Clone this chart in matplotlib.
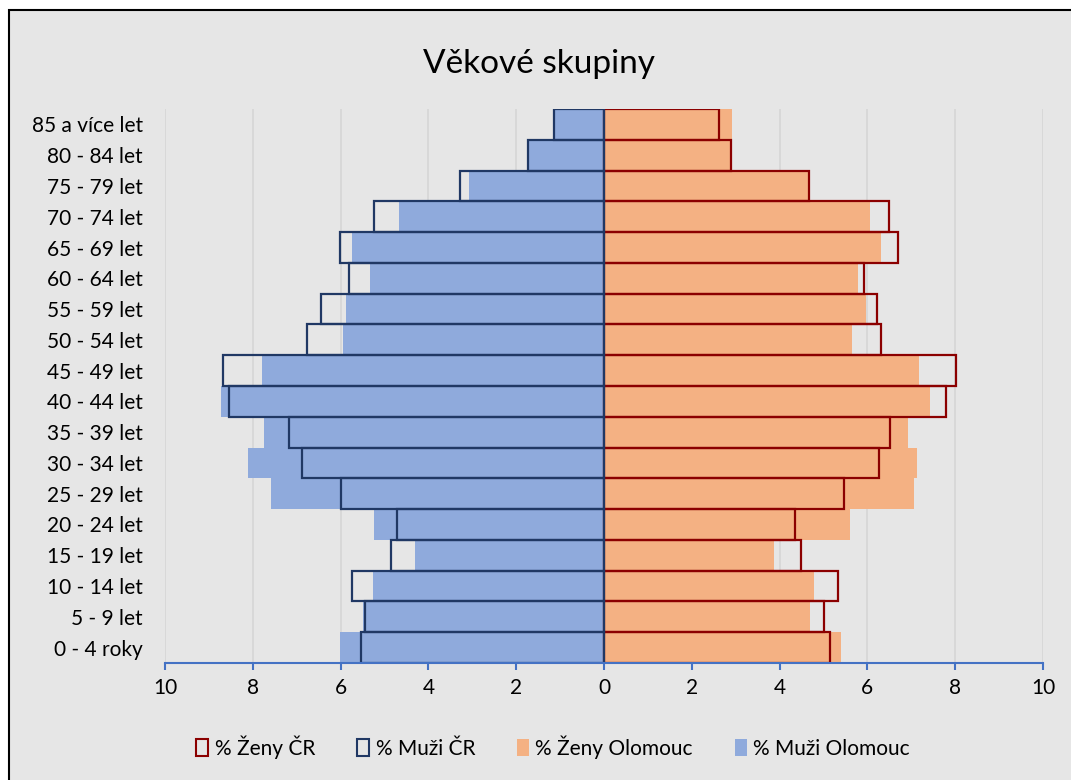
import numpy as np
import matplotlib.pyplot as plt
from matplotlib.patches import Patch, Rectangle

plt.rcParams['font.family'] = ['Lato', 'DejaVu Sans']

# age groups, youngest first (drawn bottom -> top)
vekove_skupiny = ['0 - 4 roky', '5 - 9 let', '10 - 14 let', '15 - 19 let', '20 - 24 let',
                  '25 - 29 let', '30 - 34 let', '35 - 39 let', '40 - 44 let', '45 - 49 let',
                  '50 - 54 let', '55 - 59 let', '60 - 64 let', '65 - 69 let', '70 - 74 let',
                  '75 - 79 let', '80 - 84 let', '85 a více let']

zeny_cr = [5.15, 5.02, 5.33, 4.48, 4.35, 5.46, 6.26, 6.51, 7.78, 8.02,
           6.32, 6.22, 5.92, 6.70, 6.50, 4.68, 2.89, 2.61]
muzi_cr = [5.53, 5.44, 5.73, 4.85, 4.72, 5.99, 6.88, 7.17, 8.55, 8.69,
           6.77, 6.45, 5.81, 6.01, 5.25, 3.28, 1.72, 1.15]
zeny_olomouc = [5.39, 4.70, 4.79, 3.87, 5.60, 7.07, 7.12, 6.92, 7.43, 7.18,
                5.66, 5.96, 5.79, 6.30, 6.07, 4.68, 2.88, 2.92]
muzi_olomouc = [6.01, 5.50, 5.26, 4.30, 5.25, 7.59, 8.10, 7.75, 8.73, 7.79,
                5.95, 5.88, 5.34, 5.75, 4.66, 3.07, 1.72, 1.15]

x_ticks = [-10, -8, -6, -4, -2, 0, 2, 4, 6, 8, 10]

c_zeny_ol = '#f4b183'
c_muzi_ol = '#8faadc'
c_zeny_cr = '#8b0000'
c_muzi_cr = '#203864'
c_axis = '#4472c4'

W, H = 1071, 780
fig = plt.figure(figsize=(W / 100, H / 100), dpi=100)
fig.patch.set_facecolor('white')

# chart area frame (cropped at right / bottom)
fig.add_artist(Rectangle((9 / W, -0.1), 1.2, 1 - 10 / H + 0.1, transform=fig.transFigure,
                         facecolor='#e6e6e6', edgecolor='black', lw=1.5, zorder=0))

ax = fig.add_axes([165 / W, 1 - 663 / H, 878 / W, 554 / H])
ax.set_facecolor('none')

y = np.arange(len(vekove_skupiny))

# fills (Olomouc)
ax.barh(y, zeny_olomouc, height=1.0, color=c_zeny_ol, zorder=2)
ax.barh(y, -np.array(muzi_olomouc), height=1.0, color=c_muzi_ol, zorder=2)
# outlines (CR)
ax.barh(y, zeny_cr, height=1.0, facecolor='none', edgecolor=c_zeny_cr, lw=1.6, zorder=3)
ax.barh(y, -np.array(muzi_cr), height=1.0, facecolor='none', edgecolor=c_muzi_cr, lw=1.6, zorder=3)

ax.set_xlim(-10, 10)
ax.set_ylim(-0.5, len(vekove_skupiny) - 0.5)

ax.set_xticks(x_ticks)
ax.set_xticklabels([str(abs(t)) for t in x_ticks], fontsize=15)
ax.set_yticks(y)
ax.set_yticklabels(vekove_skupiny, fontsize=15)

for t in x_ticks:
    ax.axvline(t, color='#d6d6d6', lw=1.2, zorder=1)

for s in ['top', 'right', 'left']:
    ax.spines[s].set_visible(False)
ax.spines['bottom'].set_color(c_axis)
ax.spines['bottom'].set_linewidth(1.5)
ax.spines['bottom'].set_zorder(4)
ax.tick_params(axis='x', direction='out', length=5, width=1.5, color=c_axis, pad=6)
ax.tick_params(axis='y', length=0, pad=16)

fig.text(539 / W, 1 - 64 / H, 'Věkové skupiny', ha='center', va='center', fontsize=24)

handles = [Patch(facecolor='none', edgecolor=c_zeny_cr, lw=1.5, label='% Ženy ČR'),
           Patch(facecolor='none', edgecolor=c_muzi_cr, lw=1.5, label='% Muži ČR'),
           Patch(facecolor=c_zeny_ol, edgecolor='none', label='% Ženy Olomouc'),
           Patch(facecolor=c_muzi_ol, edgecolor='none', label='% Muži Olomouc')]
fig.legend(handles=handles, loc='center', bbox_to_anchor=(553 / W, 1 - 747 / H), ncol=4,
           frameon=False, fontsize=15, handlelength=0.6, handleheight=0.9,
           handletextpad=0.3, columnspacing=2.0)

fig.savefig('out.png', dpi=100)
